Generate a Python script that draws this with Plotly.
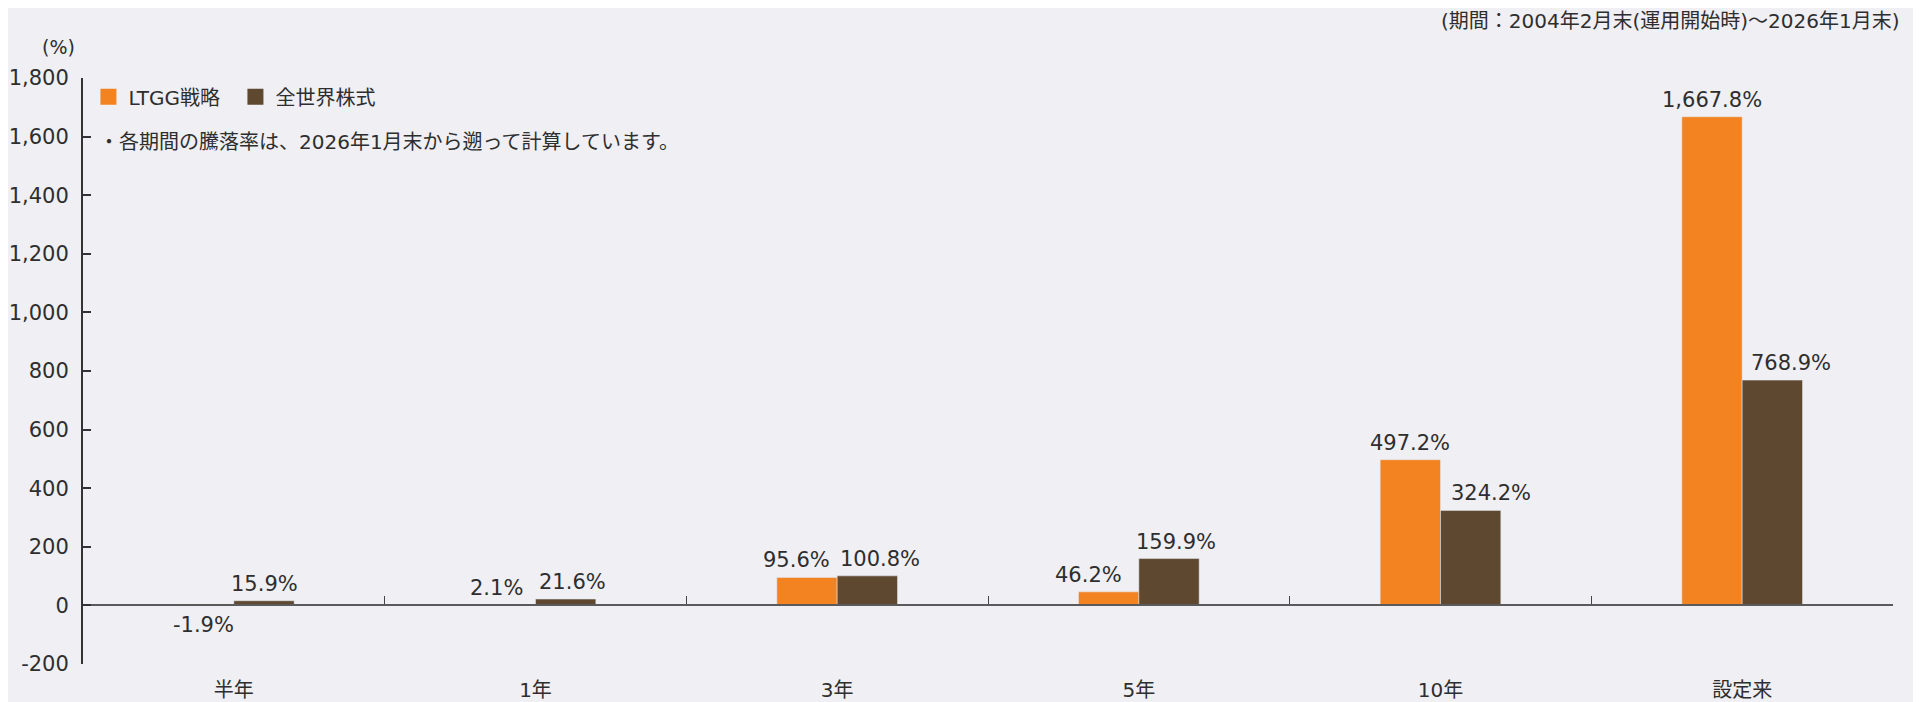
import plotly.graph_objects as go

categories = ["半年", "1年", "3年", "5年", "10年", "設定来"]
ltgg = [-1.9, 2.1, 95.6, 46.2, 497.2, 1667.8]
world = [15.9, 21.6, 100.8, 159.9, 324.2, 768.9]
series_names = ["LTGG戦略", "全世界株式"]
y_ticks = [-200, 0, 200, 400, 600, 800, 1000, 1200, 1400, 1600, 1800]
y_tick_text = ["-200", "0", "200", "400", "600", "800", "1,000", "1,200", "1,400", "1,600", "1,800"]

# style: small horizontal nudges (px) applied to value labels to avoid collisions
label_nudge = [[0, -9, -11, -20, 0, 0], [0, 7, 13, 7, 20, 19]]

FONT = "DejaVu Sans, Noto Sans CJK JP"
TXT = "#2e2e2e"
ORANGE = "#F38321"
BROWN = "#5E4930"
colors = [ORANGE, BROWN]
BARGAP = 0.6

def fmt(v):
    return f"{v:,.1f}%"

fig = go.Figure()
series = [ltgg, world]
for name, vals, col in zip(series_names, series, colors):
    fig.add_trace(go.Bar(
        x=categories, y=vals, name=name, marker_color=col, showlegend=False,
        hovertemplate="%{x}: %{y:.1f}%<extra>" + name + "</extra>",
    ))
# legend entries with larger square swatches
for name, col in zip(series_names, colors):
    fig.add_trace(go.Scatter(
        x=[None], y=[None], name=name, mode="markers",
        marker=dict(symbol="square", size=18, color=col), hoverinfo="skip",
    ))
# helper trace so the zero-level category axis draws its boundary ticks
fig.add_trace(go.Scatter(
    x=categories, y=[None] * len(categories), xaxis="x2", mode="markers",
    showlegend=False, hoverinfo="skip",
))

bar_w = (1 - BARGAP) / len(series)
value_labels = []
for s, vals in enumerate(series):
    for i, v in enumerate(vals):
        value_labels.append(dict(
            text=fmt(v), xref="x", yref="y",
            x=i + (s - (len(series) - 1) / 2) * bar_w, y=v,
            xanchor="center", yanchor="bottom" if v >= 0 else "top",
            yshift=3 if v >= 0 else -5, xshift=label_nudge[s][i],
            showarrow=False, font=dict(family=FONT, size=21, color=TXT),
        ))

fig.update_layout(
    width=1913, height=694,
    margin=dict(l=75, r=28, t=70, b=38, autoexpand=False),
    paper_bgcolor="#EFEFF4", plot_bgcolor="rgba(0,0,0,0)",
    barmode="group", bargap=BARGAP, bargroupgap=0,
    font=dict(family=FONT, size=20, color=TXT),
    showlegend=True,
    legend=dict(orientation="h", x=0.003, y=0.968, xanchor="left", yanchor="middle",
                bgcolor="rgba(0,0,0,0)", font=dict(family=FONT, size=20, color=TXT),
                itemwidth=30, traceorder="normal", itemclick=False,
                entrywidth=102, entrywidthmode="pixels"),
    xaxis=dict(type="category", categoryorder="array", categoryarray=categories,
               range=[-0.5, 5.5], showline=False, ticks="", showgrid=False,
               automargin=False, ticklabelstandoff=12,
               tickfont=dict(family=FONT, size=20, color=TXT)),
    xaxis2=dict(type="category", categoryorder="array", categoryarray=categories,
                overlaying="x", anchor="free", position=0.1, side="bottom",
                range=[-0.5, 5.499], showline=True, linecolor="#5a5a5a", linewidth=2,
                ticks="inside", tickson="boundaries", ticklen=8, tickwidth=1,
                tickcolor="#444444", showticklabels=False, showgrid=False,
                automargin=False),
    yaxis=dict(range=[-200, 1800], tickvals=y_ticks, ticktext=y_tick_text,
               showline=True, linecolor="#333333", linewidth=2,
               ticks="inside", ticklen=8, tickwidth=1.5, tickcolor="#333333",
               showgrid=False, zeroline=False, automargin=False,
               ticklabelstandoff=8,
               tickfont=dict(family=FONT, size=21, color=TXT)),
    annotations=[
        dict(text="(%)", xref="paper", yref="paper", x=-0.0138, y=1.053,
             xanchor="center", yanchor="middle", showarrow=False,
             font=dict(family=FONT, size=19, color=TXT)),
        dict(text="・各期間の騰落率は、2026年1月末から遡って計算しています。",
             xref="paper", yref="paper", x=0.008, y=0.891, xanchor="left", yanchor="middle",
             showarrow=False, font=dict(family=FONT, size=20, color=TXT)),
        dict(text="(期間：2004年2月末(運用開始時)～2026年1月末)",
             xref="paper", yref="paper", x=1.0044, y=1.0973,
             xanchor="right", yanchor="middle", showarrow=False,
             font=dict(family=FONT, size=20, color=TXT)),
    ] + value_labels,
)
fig.write_html("out.html")
